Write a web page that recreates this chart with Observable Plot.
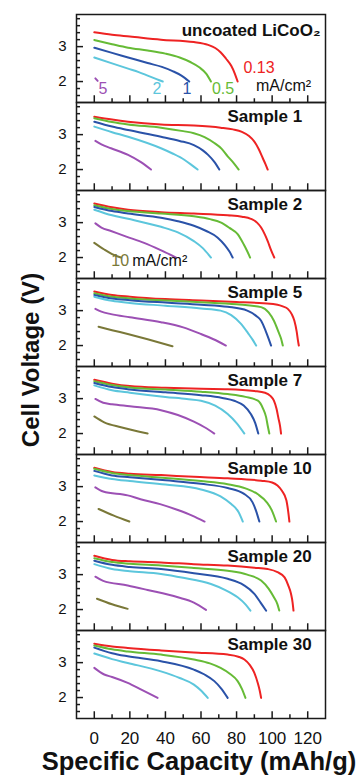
<!DOCTYPE html>
<html><head><meta charset="utf-8">
<script src="https://cdn.jsdelivr.net/npm/d3@7"></script>
<script src="https://cdn.jsdelivr.net/npm/@observablehq/plot@0.6"></script>
<style>body{margin:0;background:#fff}#chart svg{display:block}</style>
</head><body><div id="chart"></div>
<script>
// Panels (top to bottom) and discharge rates (mA/cm²)
const panels = ["uncoated LiCoO₂","Sample 1","Sample 2","Sample 5","Sample 7","Sample 10","Sample 20","Sample 30"];
const rates = ["0.13","0.5","1","2","5","10"];
const colors = ["#ee2323","#66bb36","#2a52a8","#5cc6dc","#9c50b4","#7a7838"];
const xMajor = [0,20,40,60,80,100,120];
const xMinor = [10,30,50,70,90,110];
const yMajor = [2,3];
const yMinor = [1.6,1.8,2.2,2.4,2.6,2.8,3.2,3.4,3.6,3.8];

// Each panel: series in rate order [0.13, 0.5, 1, 2, 5, 10]; points are [capacity mAh/g, voltage V]
const uncoated = [
  [[0,3.41],[10,3.34],[20,3.29],[37.5,3.2],[56,3.13],[64,3.05],[68,2.96],[71,2.84],[74,2.66],[77,2.45],[79,2.23],[80.6,2.0]],
  [[0,3.19],[10,3.07],[19,2.97],[30,2.89],[40,2.8],[48,2.69],[54,2.56],[59,2.41],[63,2.22],[65.6,2.0]],
  [[0,2.97],[10,2.82],[19,2.69],[30,2.53],[38,2.42],[44,2.3],[49,2.17],[53.4,2.0]],
  [[0,2.69],[10,2.52],[19,2.37],[25,2.27],[30,2.17],[35,2.07],[38.5,2.0]],
  [[0.6,2.09],[1.9,2.02]],
  null
];
const sample1 = [
  [[0,3.51],[10,3.43],[19,3.37],[37.5,3.29],[56,3.26],[71,3.2],[78,3.15],[83,3.08],[87,2.96],[90,2.8],[92.5,2.58],[94.7,2.33],[96.3,2.15],[97.5,2.0]],
  [[0,3.47],[10,3.36],[19,3.29],[37.5,3.2],[50,3.1],[56,3.04],[62,2.93],[67.5,2.76],[71.5,2.6],[75,2.38],[78.5,2.18],[81.2,2.0]],
  [[0,3.37],[10,3.23],[19,3.13],[37.5,2.94],[48,2.82],[56,2.7],[61,2.55],[64,2.42],[67.5,2.22],[70.3,2.0]],
  [[0,3.23],[10,3.07],[19,2.94],[37.5,2.61],[44,2.46],[50.6,2.28],[55,2.12],[58.1,2.0]],
  [[0.6,2.82],[4,2.72],[9.4,2.61],[19,2.42],[26,2.22],[31.9,2.0]],
  null
];
const sample2 = [
  [[0,3.55],[10,3.44],[19,3.37],[37.5,3.3],[56,3.26],[75,3.21],[83,3.17],[88,3.11],[91.5,3.0],[93.8,2.86],[96,2.65],[97.5,2.47],[99.5,2.2],[101.2,2.0]],
  [[0,3.5],[10,3.39],[19,3.33],[37.5,3.26],[56,3.18],[65,3.1],[71,3.01],[76,2.85],[80.6,2.67],[84,2.38],[86,2.18],[87.6,2.0]],
  [[0,3.45],[10,3.33],[19,3.26],[37.5,3.14],[47,3.04],[56,2.91],[63,2.76],[69.4,2.57],[73.5,2.35],[76,2.17],[77.8,2.0]],
  [[0,3.37],[10,3.21],[19,3.11],[37.5,2.88],[47,2.72],[56,2.47],[61,2.27],[65.6,2.0]],
  [[0.6,2.98],[4,2.86],[9.4,2.76],[18,2.6],[28,2.42],[37,2.22],[46,2.0]],
  [[0,2.42],[5.6,2.23],[10,2.1],[15,2.0]]
];
const sample5 = [
  [[0,3.55],[10,3.45],[20,3.4],[40,3.33],[60,3.29],[80,3.25],[95,3.21],[103,3.17],[106,3.12],[108.8,3.05],[111,2.9],[112.5,2.71],[113.8,2.4],[114.5,2.15],[115,2.0]],
  [[0,3.5],[10,3.4],[20,3.35],[40,3.29],[60,3.24],[80,3.18],[93.8,3.1],[98,2.95],[101,2.71],[103.5,2.4],[105,2.2],[106,2.0]],
  [[0,3.45],[10,3.35],[20,3.3],[40,3.23],[60,3.17],[75,3.11],[86,3.0],[91,2.85],[93.8,2.71],[96.5,2.4],[98,2.2],[99.4,2.0]],
  [[0,3.4],[10,3.28],[20,3.22],[40,3.14],[60,3.06],[71,3.0],[77,2.87],[82.5,2.62],[86.5,2.35],[89,2.17],[91,2.0]],
  [[0.6,3.05],[4,2.97],[9.4,2.9],[20,2.81],[37.5,2.67],[50,2.52],[60,2.33],[67,2.18],[74,2.0]],
  [[2.4,2.54],[10,2.44],[18.8,2.33],[30,2.18],[44,1.98]]
];
const sample7 = [
  [[0,3.54],[10,3.43],[20,3.36],[40,3.31],[60,3.28],[75,3.27],[90,3.22],[96,3.17],[99,3.08],[101,2.94],[102.5,2.7],[103.5,2.45],[104.5,2.2],[105,2.0]],
  [[0,3.5],[10,3.39],[20,3.32],[40,3.26],[60,3.2],[75,3.13],[85,3.05],[92,2.94],[95,2.7],[96.6,2.47],[97.6,2.2],[98.4,2.0]],
  [[0,3.45],[10,3.33],[20,3.26],[40,3.18],[60,3.1],[72,3.02],[78.7,2.94],[84,2.8],[88,2.56],[90.5,2.3],[92.2,2.0]],
  [[0,3.38],[10,3.24],[20,3.17],[40,3.05],[52,2.99],[60,2.94],[68,2.8],[75,2.56],[80,2.3],[84.4,2.0]],
  [[0.6,2.99],[5,2.88],[10,2.84],[20,2.78],[37.5,2.67],[47,2.53],[56,2.34],[62,2.18],[67.5,2.0]],
  [[0,2.49],[5.6,2.32],[15,2.18],[30,2.0]]
];
const sample10 = [
  [[0,3.54],[10,3.42],[20,3.37],[37.5,3.33],[56,3.28],[75,3.24],[93.8,3.17],[100,3.12],[103,3.03],[105.5,2.88],[108,2.61],[109,2.3],[109.7,2.0]],
  [[0,3.51],[10,3.39],[20,3.33],[40,3.25],[60,3.16],[75,3.07],[85,2.95],[92,2.78],[97,2.55],[100,2.3],[102.2,2.0]],
  [[0,3.45],[10,3.32],[20,3.27],[40,3.18],[60,3.08],[75,2.96],[84,2.8],[89,2.55],[91,2.3],[92.8,2.0]],
  [[0,3.32],[10,3.22],[20,3.16],[40,3.06],[60,2.92],[71,2.72],[77,2.5],[81,2.28],[83.5,2.0]],
  [[0.6,2.98],[5,2.86],[18.8,2.75],[26,2.64],[37,2.5],[47,2.33],[55,2.17],[62,2.0]],
  [[2.4,2.36],[11,2.17],[19.7,2.0]]
];
const sample20 = [
  [[0,3.54],[10,3.42],[20,3.38],[37.5,3.35],[56,3.3],[75,3.26],[90,3.2],[97.5,3.16],[103,3.07],[107,2.92],[109,2.7],[110.6,2.45],[111.5,2.2],[112,1.97]],
  [[0,3.47],[10,3.36],[20,3.31],[37.5,3.26],[56,3.19],[75,3.11],[86,3.0],[93.8,2.83],[98,2.6],[101,2.35],[103,2.15],[104,1.97]],
  [[0,3.4],[10,3.28],[20,3.22],[37.5,3.16],[56,3.04],[75,2.88],[84,2.7],[90,2.45],[93.5,2.2],[96.6,1.97]],
  [[0,3.3],[10,3.16],[20,3.1],[37.5,3.02],[50,2.91],[65.6,2.73],[74,2.55],[80.6,2.35],[85,2.15],[87.8,1.97]],
  [[0.6,2.94],[5,2.82],[18.8,2.69],[30,2.56],[47,2.35],[56,2.2],[62.8,1.99]],
  [[1.5,2.31],[10,2.15],[18.8,2.02]]
];
const sample30 = [
  [[0,3.54],[10,3.46],[18.8,3.42],[37.5,3.35],[56,3.29],[75,3.23],[81,3.17],[84.4,3.09],[87.5,2.93],[90,2.71],[92,2.4],[93,2.2],[93.8,1.99]],
  [[0,3.49],[10,3.38],[18.8,3.32],[37.5,3.23],[56,3.09],[65,2.98],[71,2.85],[76,2.69],[80.6,2.47],[83,2.25],[85,1.99]],
  [[0,3.43],[10,3.27],[18.8,3.18],[37.5,3.04],[56,2.8],[62,2.66],[67.5,2.47],[71.5,2.25],[75,1.99]],
  [[0,3.26],[10,3.1],[18.8,2.99],[37.5,2.75],[48,2.56],[56,2.37],[60,2.2],[63.8,1.99]],
  [[0,2.85],[5.6,2.66],[10,2.59],[18.8,2.42],[27,2.21],[35.6,1.99]],
  null
];
const panelSeries = [uncoated, sample1, sample2, sample5, sample7, sample10, sample20, sample30];

// Rate annotations (panel, text, rate, capacity, voltage)
const rateLabels = [
  {panel: panels[0], text: "0.13", rate: "0.13", cap: 92.6, v: 2.39},
  {panel: panels[0], text: "0.5", rate: "0.5", cap: 72.4, v: 1.78},
  {panel: panels[0], text: "1", rate: "1", cap: 52.1, v: 1.78},
  {panel: panels[0], text: "2", rate: "2", cap: 35.3, v: 1.78},
  {panel: panels[0], text: "5", rate: "5", cap: 4.9, v: 1.78},
  {panel: panels[2], text: "10", rate: "10", cap: 14.6, v: 1.9}
];
const unitLabels = [
  {panel: panels[0], text: "mA/cm²", cap: 90.9, v: 1.89},
  {panel: panels[2], text: "mA/cm²", cap: 21.3, v: 1.9}
];

const rows = [];
panelSeries.forEach((series, pi) => series.forEach((pts, ri) => {
  if (!pts) return;
  pts.forEach(([cap, v]) => rows.push({panel: panels[pi], rate: rates[ri], key: pi + "-" + ri, cap, v}));
}));

const W = 360, H = 777, mT = 13, mB = 58, mL = 76, mR = 35;
const facetH = (H - mT - mB) / panels.length;
const facetW = W - mL - mR;
const tickStyle = {stroke: "#1a1a1a", strokeWidth: 1.5};

const chart = Plot.plot({
  width: W, height: H,
  marginTop: mT, marginBottom: mB, marginLeft: mL, marginRight: mR,
  style: {fontFamily: "'Liberation Sans', Arial, sans-serif", background: "white", color: "#111"},
  x: {domain: [-10, 130]},
  y: {domain: [1.4, 3.92]},
  fy: {domain: panels, padding: 0, axis: null, label: null},
  color: {domain: rates, range: colors},
  marks: [
    Plot.line(rows, {x: "cap", y: "v", fy: "panel", z: "key", stroke: "rate", strokeWidth: 2, curve: "monotone-x"}),
    Plot.frame({stroke: "#1a1a1a", strokeWidth: 1.5}),
    Plot.tickX(xMajor, {x: d => d, insetTop: facetH - 7, ...tickStyle}),
    Plot.tickX(xMinor, {x: d => d, insetTop: facetH - 4, ...tickStyle}),
    Plot.tickY(yMajor, {y: d => d, insetRight: facetW - 7, ...tickStyle}),
    Plot.tickY(yMinor, {y: d => d, insetRight: facetW - 4, ...tickStyle}),
    Plot.axisX({ticks: xMajor, tickSize: 0, tickPadding: 13, label: null, facetAnchor: "bottom", fontSize: 17}),
    Plot.axisY({ticks: yMajor, tickSize: 0, tickPadding: 10, tickFormat: d => String(d), label: null, facetAnchor: null, fontSize: 15}),
    Plot.text([panels[0]], {fy: d => d, text: d => d, frameAnchor: "top-right", textAnchor: "end", dx: -5, dy: 16, lineAnchor: "middle", fontSize: 17, fontWeight: "bold", fill: "#111"}),
    Plot.text(panels.slice(1), {fy: d => d, text: d => d, frameAnchor: "top-left", textAnchor: "start", dx: 151, dy: 14, lineAnchor: "middle", fontSize: 17, fontWeight: "bold", fill: "#111"}),
    Plot.text(rateLabels, {fy: "panel", x: "cap", y: "v", text: "text", fill: "rate", fontSize: 16}),
    Plot.text(unitLabels, {fy: "panel", x: "cap", y: "v", text: "text", fill: "#111", fontSize: 16, textAnchor: "start"})
  ]
});

const svg = d3.select(chart);
svg.append("text")
  .attr("x", 199).attr("y", 770)
  .attr("text-anchor", "middle")
  .attr("font-family", "'Liberation Sans', Arial, sans-serif")
  .attr("font-size", 25.5).attr("font-weight", "bold").attr("fill", "#111")
  .text("Specific Capacity (mAh/g)");
svg.append("text")
  .attr("transform", "translate(39,360) rotate(-90)")
  .attr("text-anchor", "middle")
  .attr("font-family", "'Liberation Sans', Arial, sans-serif")
  .attr("font-size", 24).attr("font-weight", "bold").attr("fill", "#111")
  .text("Cell Voltage (V)");

document.getElementById("chart").appendChild(chart);
</script>
</body></html>
